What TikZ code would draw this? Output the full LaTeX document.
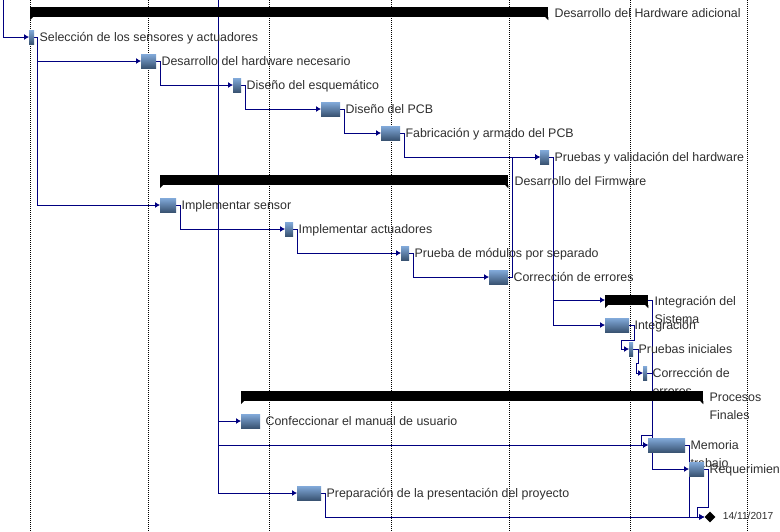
\documentclass[tikz,border=0pt]{standalone}
\usepackage{fontspec}
\setmainfont{Liberation Sans}
\usetikzlibrary{positioning,shapes.geometric,backgrounds,arrows.meta}
\definecolor{azul}{HTML}{000080}
\definecolor{texto}{HTML}{2E2E2E}
\definecolor{barraA}{HTML}{82AADA}
\definecolor{barraB}{HTML}{3A5473}

\begin{document}
\begin{tikzpicture}[
        x=1pt, y=-1pt, % 1 px = 1 pt, y hacia abajo
        tarea/.style = {rectangle, anchor=west, inner sep=0, minimum height=14pt, top color=barraA, bottom color=barraB}, % barra de tarea
        resumen/.style = {rectangle, anchor=west, inner sep=0, minimum height=10pt, fill=black}, % barra resumen
        hito/.style = {diamond, fill=black, inner sep=0, minimum width=11pt, minimum height=11pt},
        etiqueta/.style = {inner sep=0, text=texto, align=left, font=\fontsize{12.4}{18}\selectfont, yshift=-4pt},
        etiquetaR/.style = {etiqueta, yshift=-1.5pt},
        doble/.style = {yshift=-18pt}, % dos renglones
        enlace/.style = {draw=azul, line width=1pt, -{Latex[length=5pt,width=6pt]}},
        rejilla/.style = {draw=black, line width=1pt, dash pattern=on 1pt off 1pt},
    ]
    \useasboundingbox (0,0) rectangle (780,531);
    \clip (0,0) rectangle (780,531);

    % Desarrollo del Hardware adicional
    \node[resumen, minimum width=518pt] (s0) at (30,12) {};
    \node[etiquetaR, base right=6pt of s0] (e0) {Desarrollo del Hardware adicional};
    \node[tarea, minimum width=5pt] (b1) at (29,37) {};
    \node[etiqueta, base right=5pt of b1] (e1) {Selección de los sensores y actuadores};
    \node[tarea, minimum width=15pt] (b2) at (141,61) {};
    \node[etiqueta, base right=5pt of b2] (e2) {Desarrollo del hardware necesario};
    \node[tarea, minimum width=8pt] (b3) at (233,85) {};
    \node[etiqueta, base right=5pt of b3] (e3) {Diseño del esquemático};
    \node[tarea, minimum width=19pt] (b4) at (321,109) {};
    \node[etiqueta, base right=5pt of b4] (e4) {Diseño del PCB};
    \node[tarea, minimum width=19pt] (b5) at (381,133) {};
    \node[etiqueta, base right=5pt of b5] (e5) {Fabricación y armado del PCB};
    \node[tarea, minimum width=9pt] (b6) at (540,157) {};
    \node[etiqueta, base right=5pt of b6] (e6) {Pruebas y validación del hardware};

    % Desarrollo del Firmware
    \node[resumen, minimum width=348pt] (s7) at (160,180) {};
    \node[etiquetaR, base right=6pt of s7] (e7) {Desarrollo del Firmware};
    \node[tarea, minimum width=16pt] (b8) at (160,205) {};
    \node[etiqueta, base right=5pt of b8] (e8) {Implementar sensor};
    \node[tarea, minimum width=8pt] (b9) at (285,229) {};
    \node[etiqueta, base right=5pt of b9] (e9) {Implementar actuadores};
    \node[tarea, minimum width=8pt] (b10) at (401,253) {};
    \node[etiqueta, base right=5pt of b10] (e10) {Prueba de módulos por separado};
    \node[tarea, minimum width=19pt] (b11) at (489,277) {};
    \node[etiqueta, base right=5pt of b11] (e11) {Corrección de errores};

    % Integración del Sistema
    \node[resumen, minimum width=43pt] (s12) at (605,300) {};
    \node[etiquetaR, doble, base right=6pt of s12] (e12) {Integración del\\Sistema};
    \node[tarea, minimum width=24pt] (b13) at (605,325) {};
    \node[etiqueta, base right=5pt of b13] (e13) {Integración};
    \node[tarea, minimum width=4pt] (b14) at (629,349) {};
    \node[etiqueta, base right=5pt of b14] (e14) {Pruebas iniciales};
    \node[tarea, minimum width=4pt] (b15) at (643,373) {};
    \node[etiqueta, doble, base right=5pt of b15] (e15) {Corrección de\\errores};

    % Procesos Finales
    \node[resumen, minimum width=462pt] (s16) at (241,396) {};
    \node[etiquetaR, doble, base right=6pt of s16] (e16) {Procesos\\Finales};
    \node[tarea, minimum width=19pt] (b17) at (241,421) {};
    \node[etiqueta, base right=5pt of b17] (e17) {Confeccionar el manual de usuario};
    \node[tarea, minimum width=37pt] (b18) at (648,445) {};
    \node[etiqueta, doble, base right=5pt of b18] (e18) {Memoria\\trabajo};
    \node[tarea, minimum width=15pt] (b19) at (689,469) {};
    \node[etiqueta, base right=5pt of b19] (e19) {Requerimientos};
    \node[tarea, minimum width=24pt] (b20) at (297,493) {};
    \node[etiqueta, base right=5pt of b20] (e20) {Preparación de la presentación del proyecto};
    \node[hito] (m21) at (710,517) {};
    \node[etiqueta, font=\fontsize{10.2}{12}\selectfont, yshift=5pt, right=7pt of m21] (e21) {14/11/2017};

    % puntas de las barras resumen
    \foreach \s in {s0,s7,s12,s16} {
        \fill (\s.south west) -- ++(0,3) -- ++(3,-3) -- cycle;
        \fill (\s.south east) -- ++(0,3) -- ++(-3,-3) -- cycle;
    }

    \coordinate (ext1) at (3,0);
    \coordinate (ext2) at (218,0);

    \begin{scope}[on background layer]
        \foreach \x in {30,148,269,391,509,630,747}
            \draw[rejilla] (\x,0) -- (\x,531);

        \draw[enlace] (ext1) |- (b1.west);
        \draw[enlace] (b1.east) -- ++(3,0) |- (b2.west);
        \draw[enlace] (b1.east) -- ++(3,0) |- (b8.west);
        \draw[enlace] (b2.east) -- ++(4,0) |- (b3.west);
        \draw[enlace] (b3.east) -- ++(4,0) |- (b4.west);
        \draw[enlace] (b4.east) -- ++(4,0) |- (b5.west);
        \draw[enlace] (b5.east) -- ++(4,0) |- (b6.west);
        \draw[enlace] (b11.east) -- ++(4,0) |- (b6.west);
        \draw[enlace] (b6.east) -- ++(4,0) |- (s12.west);
        \draw[enlace] (b6.east) -- ++(4,0) |- (b13.west);
        \draw[enlace] (b8.east) -- ++(4,0) |- (b9.west);
        \draw[enlace] (b9.east) -- ++(4,0) |- (b10.west);
        \draw[enlace] (b10.east) -- ++(4,0) |- (b11.west);
        \draw[enlace] (b13.east) -- ++(5,0) |- ([xshift=-8pt,yshift=9pt]b14.west) |- (b14.west);
        \draw[enlace] (b14.east) -- ++(5,0) |- ([xshift=-7pt,yshift=10pt]b15.west) |- (b15.west);
        \draw[enlace] (s12.east) -- ++(4,0) |- (b19.west);
        \draw[enlace] (b15.east) -- ++(5,0) |- ([xshift=-7pt,yshift=10pt]b18.west) |- (b18.west);
        \draw[enlace] (ext2) |- (b17.west);
        \draw[enlace] (ext2) |- (b18.west);
        \draw[enlace] (ext2) |- (b20.west);
        \draw[enlace] (b18.east) -- ++(4,0) |- (m21.west);
        \draw[enlace] (b19.east) -- ++(4,0) |- ([xshift=-7pt,yshift=10pt]m21.west) |- (m21.west);
        \draw[enlace] (b20.east) -- ++(4,0) |- (m21.west);
    \end{scope}
\end{tikzpicture}
\end{document}
